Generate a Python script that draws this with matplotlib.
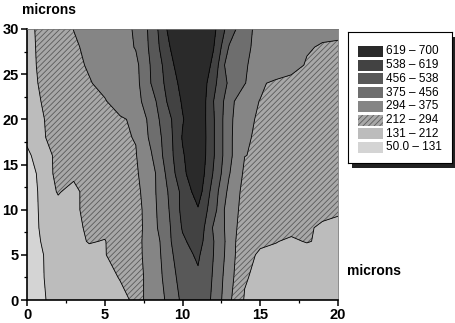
import numpy as np
import matplotlib
matplotlib.use("Agg")
import matplotlib.pyplot as plt
from matplotlib.patches import Rectangle
from matplotlib.ticker import MultipleLocator

# ---- data ----
x_microns = [0, 1, 2, 3, 4, 5, 6, 7, 8, 9, 10, 11, 12, 13, 14, 15, 16, 17, 18, 19, 20]
y_microns = [0, 2.5, 5, 6.5, 8, 10, 12, 14, 16, 18, 20, 22, 24, 26, 28, 30]

row_y00 = [110, 127, 145, 160, 175, 190, 202, 219, 369, 376, 476, 500, 445, 310, 205, 190, 182, 178, 175, 172, 170]
row_y02 = [112, 130, 140, 160, 180, 200, 214, 250, 338, 391, 499, 525, 448, 326, 219, 191, 185, 182, 180, 178, 176]
row_y05 = [115, 130, 145, 165, 185, 205, 275, 285, 307, 420, 510, 550, 455, 341, 223, 207, 200, 195, 190, 188, 185]
row_y06 = [117, 133, 150, 185, 218, 208, 260, 285, 308, 430, 525, 575, 458, 345, 225, 218, 214, 205, 215, 205, 200]
row_y08 = [118, 135, 160, 195, 223, 235, 245, 260, 340, 430, 545, 600, 445, 345, 243, 235, 228, 225, 218, 205, 198]
row_y10 = [118, 136, 170, 190, 245, 250, 255, 262, 342, 440, 560, 612, 489, 324, 274, 262, 255, 245, 235, 225, 220]
row_y12 = [120, 136, 222, 175, 268, 265, 268, 272, 345, 450, 560, 660, 500, 353, 269, 265, 260, 255, 248, 240, 235]
row_y14 = [122, 137, 250, 240, 255, 262, 268, 285, 340, 470, 600, 680, 530, 380, 280, 275, 270, 265, 258, 250, 245]
row_y16 = [122, 155, 245, 250, 255, 262, 270, 290, 370, 490, 610, 690, 545, 395, 295, 288, 282, 276, 270, 264, 258]
row_y18 = [140, 200, 260, 266, 272, 278, 285, 297, 395, 490, 625, 695, 545, 395, 297, 290, 284, 278, 272, 266, 260]
row_y20 = [150, 205, 262, 268, 274, 280, 288, 303, 406, 506, 613, 690, 545, 395, 310, 285, 280, 275, 270, 265, 260]
row_y22 = [160, 218, 270, 276, 284, 290, 320, 350, 420, 540, 628, 698, 538, 410, 305, 293, 288, 284, 280, 276, 272]
row_y24 = [170, 230, 262, 278, 290, 310, 325, 350, 460, 557, 646, 698, 560, 440, 380, 300, 285, 280, 276, 272, 268]
row_y26 = [175, 237, 260, 280, 300, 310, 325, 355, 465, 569, 680, 698, 599, 396, 380, 355, 330, 310, 290, 285, 282]
row_y28 = [180, 238, 262, 285, 308, 318, 340, 380, 475, 600, 695, 698, 622, 450, 385, 360, 335, 315, 298, 290, 288]
row_y30 = [185, 239, 265, 295, 312, 325, 345, 385, 480, 620, 690, 698, 640, 500, 400, 350, 330, 318, 310, 306, 304]

levels = [50, 131, 212, 294, 375, 456, 538, 619, 700]
legend_labels = ["50.0 \u2013 131", "131 \u2013 212", "212 \u2013 294", "294 \u2013 375",
                 "375 \u2013 456", "456 \u2013 538", "538 \u2013 619", "619 \u2013 700"]
x_ticks = [0, 5, 10, 15, 20]
y_ticks = [0, 5, 10, 15, 20, 25, 30]

# ---- style ----
fill_colors = ["#d4d4d4", "#bcbcbc", "#a8a8a8", "#858585", "#6e6e6e", "#585858", "#424242", "#2a2a2a"]
hatches = [None, None, "//////", None, None, None, None, None]
hatch_col = "#5a5a5a"
plt.rcParams["hatch.color"] = hatch_col
plt.rcParams["hatch.linewidth"] = 0.6
plt.rcParams["font.family"] = ["Liberation Sans", "DejaVu Sans"]

Z = np.array([row_y00, row_y02, row_y05, row_y06, row_y08, row_y10, row_y12, row_y14,
              row_y16, row_y18, row_y20, row_y22, row_y24, row_y26, row_y28, row_y30], dtype=float)

W, H = 455, 323
fig = plt.figure(figsize=(W / 100, H / 100), dpi=100)
fig.patch.set_facecolor("white")
ax = fig.add_axes([27 / W, (H - 300) / H, (338 - 27) / W, (300 - 29) / H])

ax.contourf(x_microns, y_microns, Z, levels=levels, colors=fill_colors, hatches=hatches)
ax.contour(x_microns, y_microns, Z, levels=levels[1:-1], colors="black", linewidths=0.6)

ax.set_xlim(0, 20)
ax.set_ylim(0, 30)
ax.set_xticks(x_ticks)
ax.set_yticks(y_ticks)
ax.xaxis.set_minor_locator(MultipleLocator(2.5))
ax.yaxis.set_minor_locator(MultipleLocator(2.5))
ax.tick_params(which="major", direction="out", length=4, width=1.1, labelsize=10.5, pad=2)
ax.tick_params(which="minor", direction="out", length=2.5, width=0.9)
for lab in ax.get_xticklabels() + ax.get_yticklabels():
    lab.set_fontweight("bold")
for s in ["left", "bottom"]:
    ax.spines[s].set_linewidth(1.2)
for s in ["top", "right"]:
    ax.spines[s].set_linewidth(0.6)
    ax.spines[s].set_color("#777777")

fig.text(22 / W, 1 - 10 / H, "microns", fontsize=10, fontweight="bold", ha="left", va="center")
fig.text(347 / W, 1 - 271 / H, "microns", fontsize=10, fontweight="bold", ha="left", va="center")

# ---- legend box with drop shadow ----
lx0, ly0, lx1, ly1 = 348, 32, 452, 163
sh = fig.add_axes([(lx0 + 4) / W, (H - ly1 - 5) / H, (lx1 - lx0) / W, (ly1 - ly0) / H])
sh.set_facecolor("#222222")
sh.set_xticks([]); sh.set_yticks([])
for s in sh.spines.values():
    s.set_visible(False)
lg = fig.add_axes([lx0 / W, (H - ly1) / H, (lx1 - lx0) / W, (ly1 - ly0) / H])
lg.set_xlim(0, lx1 - lx0)
lg.set_ylim(ly1 - ly0, 0)
lg.set_facecolor("white")
lg.set_xticks([]); lg.set_yticks([])
for s in lg.spines.values():
    s.set_linewidth(0.8)
n = len(legend_labels)
for i in range(n):
    k = n - 1 - i
    cy = 19.5 + i * 13.7
    lg.add_patch(Rectangle((10, cy - 5.5), 25, 11, facecolor=fill_colors[k],
                           hatch=hatches[k], edgecolor=hatch_col, linewidth=0))
    lg.text(38, cy, legend_labels[k], fontsize=8.5, ha="left", va="center")

fig.savefig("out.png", dpi=100)
